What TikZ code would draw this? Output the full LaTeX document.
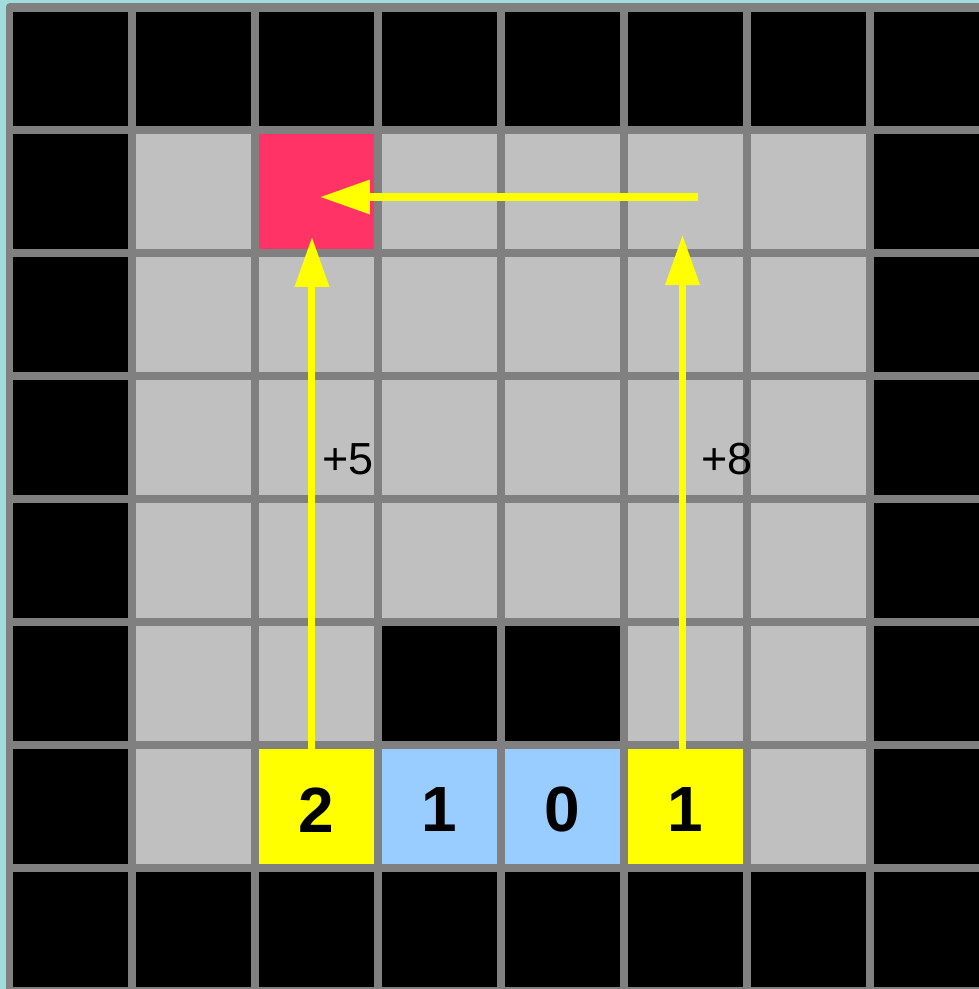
\documentclass[tikz,border=0pt]{standalone}
\usepackage{fontspec}
\setmainfont{Liberation Sans}
\usetikzlibrary{arrows.meta,calc}
\definecolor{bgteal}{RGB}{160,220,220}
\definecolor{gridgray}{RGB}{128,128,128}
\definecolor{cellgray}{RGB}{192,192,192}
\definecolor{cellred}{RGB}{255,51,102}
\definecolor{cellblue}{RGB}{153,204,255}
\definecolor{cellyellow}{RGB}{255,255,0}
\begin{document}
\begin{tikzpicture}[x=1cm,y=1cm,
  cell/.style={minimum size=1cm, inner sep=0pt, outer sep=0pt},
  cell-k/.style={cell, fill=black},
  cell-g/.style={cell, fill=cellgray},
  cell-r/.style={cell, fill=cellred},
  cell-b/.style={cell, fill=cellblue},
  cell-y/.style={cell, fill=cellyellow},
  gridline/.style={draw=gridgray, line width=0.065cm},
  arr/.style={draw=cellyellow, line width=0.057cm, -{Triangle[length=0.407cm,width=0.268cm]}},
  num/.style={inner sep=0pt, font=\fontsize{14.8}{16}\selectfont\bfseries},
  lbl/.style={inner sep=0pt, font=\fontsize{10.4}{12}\selectfont}
]
\useasboundingbox (-0.0773,0.061) rectangle (7.888,-7.986);
\fill[bgteal] (-0.0773,0.061) rectangle (7.888,-7.986);
\clip (-0.0773,0.061) rectangle (7.888,-7.986);
% cells
\foreach \r/\lst in {0/{k,k,k,k,k,k,k,k},1/{k,g,r,g,g,g,g,k},2/{k,g,g,g,g,g,g,k},3/{k,g,g,g,g,g,g,k},4/{k,g,g,g,g,g,g,k},5/{k,g,g,k,k,g,g,k},6/{k,g,y,b,b,y,g,k},7/{k,k,k,k,k,k,k,k}}{
  \foreach \s [count=\c from 0] in \lst {
    \node[cell-\s] (c\r\c) at (\c+0.5,-\r-0.5) {};
  }
}
% grid
\draw[gridline] (0,0) grid (8,-8);
\draw[gridline, line join=round] (0,0) rectangle (8,-8);
% numbers
\node[num] (n2) at ($(c62.center)+(0,-0.027)$) {2};
\node[num] (n3) at ($(c63.center)+(0,-0.027)$) {1};
\node[num] (n4) at ($(c64.center)+(0,-0.027)$) {0};
\node[num] (n5) at ($(c65.center)+(0,-0.027)$) {1};
% arrows
\draw[arr] ($(c62.north)+(-0.039,-0.05)$) -- ($(c12.south)+(-0.039,0.133)$);
\draw[arr] ($(c65.north)+(-0.024,-0.05)$) -- ($(c15.south)+(-0.024,0.149)$);
\draw[arr] ($(c15.center)+(0.1,-0.042)$) -- ($(c12.center)+(0.026,-0.042)$);
% labels
\node[lbl] (p5) at (2.754,-3.674) {+5};
\node[lbl] (p8) at (5.836,-3.678) {+8};
\end{tikzpicture}
\end{document}
